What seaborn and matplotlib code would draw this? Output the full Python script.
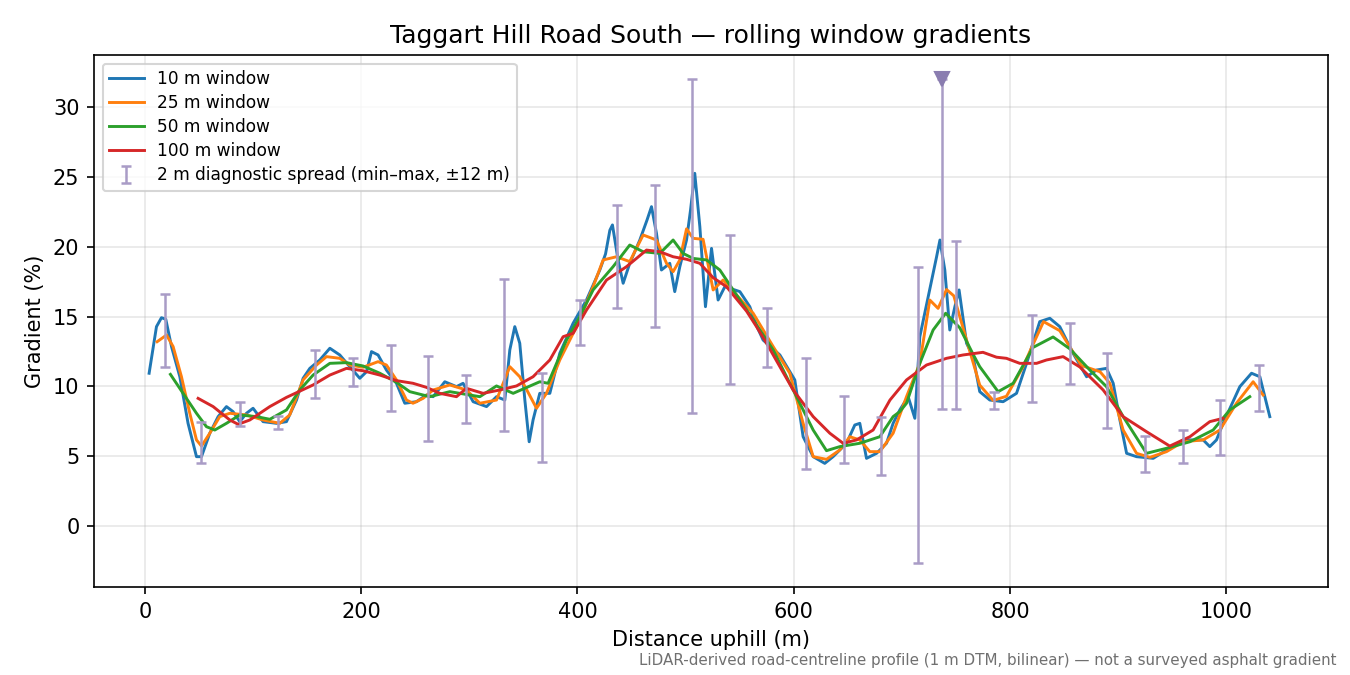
import numpy as np
import pandas as pd
import matplotlib
matplotlib.use("Agg")
import matplotlib.pyplot as plt
import seaborn as sns

# ── Data ─────────────────────────────────────────────────────────────────────
d10 = [4, 10.8, 15.4, 19.4, 24.7, 32.4, 40, 47.8, 52.4, 60.1, 67.8, 75.5, 81.6, 87.8,
       94, 100.1, 109.4, 121.8, 131, 140.3, 146.4, 152.6, 161.8, 171.1, 180.3, 189.5,
       198.8, 205, 209.6, 215.7, 223.4, 232.7, 240.4, 251.2, 260.4, 266.6, 277.4, 288.2,
       294.3, 303.6, 316, 325.2, 332.9, 337.5, 342.1, 346.7, 351.4, 355.4, 359, 365.2,
       374.5, 383.7, 396, 408.4, 420.7, 426, 430, 432.4, 437.6, 442.3, 448.4, 457.7,
       464.4, 468.5, 473.1, 477.7, 485.4, 490, 494.7, 500.9, 504.6, 508.5, 513.2, 518.4,
       524, 530.1, 536.3, 540.9, 550.2, 559.4, 566, 571.7, 587.2, 601, 608.7, 618,
       628.7, 636.4, 648.8, 656.5, 661.1, 667.3, 676.6, 685.8, 691.9, 698.1, 705.8, 712,
       716.6, 724.4, 732.1, 735.2, 739.7, 744.3, 749, 752.9, 759.8, 765.9, 772, 781.3,
       793.6, 806, 815.3, 827.5, 836.8, 846, 858.3, 870.8, 880, 889.2, 895.4, 901.6,
       907.8, 917, 932.4, 944.7, 960.1, 978.6, 984.7, 990.9, 997, 1012.5, 1023.3, 1031,
       1040.2]
g10 = [10.95, 14.29, 14.93, 14.82, 12.86, 10.7, 7.36, 4.97, 4.97, 6.65, 7.84, 8.56, 8.2,
       7.48, 8.08, 8.44, 7.48, 7.36, 7.48, 9.03, 10.59, 11.3, 11.9, 12.74, 12.26, 11.42,
       10.59, 11.06, 12.5, 12.26, 11.18, 10.23, 8.8, 8.91, 9.39, 9.27, 10.34, 9.99, 10.23,
       8.91, 8.56, 9.27, 9.03, 12.62, 14.29, 13.1, 9.03, 6.04, 7.6, 9.51, 9.51, 12.38,
       14.53, 16.2, 18.35, 19.5, 21.2, 21.58, 19.07, 17.4, 18.83, 20.5, 21.94, 22.89,
       20.98, 18.35, 18.83, 16.8, 18.59, 20.5, 22.65, 25.28, 21.46, 15.72, 19.9, 16.2,
       17.15, 17.04, 16.8, 15.72, 14.3, 13.33, 12.26, 10.47, 6.4, 4.97, 4.49, 4.97, 5.93,
       7.24, 7.36, 4.85, 5.21, 5.93, 7.36, 8.32, 9.27, 7.72, 13.57, 16.44, 19.3, 20.5,
       18.35, 14.05, 15.72, 16.92, 13.1, 12.14, 9.63, 9.03, 8.91, 9.51, 11.66, 14.65,
       14.89, 14.29, 12.38, 10.7, 11.18, 11.3, 10.23, 7.6, 5.21, 4.97, 4.85, 5.45, 6.17,
       6.17, 5.69, 6.17, 7.36, 9.99, 10.95, 10.7, 7.84]

d25 = [11.4, 20.1, 26.2, 33.9, 41.6, 47.8, 52.4, 60.1, 69.3, 78.6, 94, 109.4, 124.8, 134,
       146.4, 158.8, 168, 180.3, 189.5, 201.8, 215.7, 223.4, 232.7, 242, 248, 257.3,
       266.6, 282, 297.4, 309.8, 325.2, 337.5, 346.7, 362.2, 371.4, 383.7, 399.2, 414.5,
       423.8, 436.1, 448.4, 460.8, 473.1, 482.4, 488.5, 494.7, 500.9, 507, 516.2, 525.5,
       534.7, 547.1, 562.5, 581, 596.4, 608.7, 618, 630.3, 642.6, 651.9, 661.1, 670.4,
       679.6, 691.9, 704.3, 716.6, 725.8, 733.5, 741.3, 748, 759.8, 772, 784.4, 796.7,
       812.1, 820, 831, 846, 866, 883.2, 892.3, 904.6, 917, 929.3, 944.7, 960.1, 978.6,
       994, 1009.4, 1024.8, 1034]
g25 = [13.21, 13.69, 12.86, 10.7, 8.08, 6.17, 5.73, 6.65, 7.84, 8.08, 7.96, 7.6, 7.36,
       7.96, 10.47, 11.54, 12.14, 12.02, 11.54, 11.38, 11.78, 11.54, 10.47, 9.03, 8.8,
       9.15, 9.75, 10.11, 9.75, 8.8, 9.03, 11.42, 10.7, 8.44, 9.51, 11.9, 14.29, 17.15,
       19.07, 19.3, 18.95, 20.86, 20.5, 18.83, 18.23, 19.07, 21.3, 20.62, 20.55, 16.92,
       17.63, 16.56, 15.25, 12.86, 10.95, 7.36, 4.97, 4.78, 5.45, 6.4, 6.17, 5.33, 5.33,
       6.65, 9.27, 11.66, 16.2, 15.6, 16.95, 16.5, 13.33, 10.1, 9.0, 9.3, 11.42, 12.8,
       14.65, 14.0, 11.5, 11.06, 10.23, 6.88, 5.21, 4.92, 5.33, 6.04, 6.17, 6.88, 8.8,
       10.34, 9.39]

d50 = [23.7, 35.4, 47.8, 57, 64.7, 75.5, 87.8, 103.3, 115.6, 131, 143.3, 155.6, 171.1,
       186.5, 201.8, 217.3, 232.7, 245, 257.3, 263.5, 282, 309.8, 325.2, 340.6, 365.2,
       372.9, 389.9, 402.2, 414.5, 433, 448.4, 460.8, 476.2, 488.5, 497.7, 507, 519.4,
       531.7, 544, 556.4, 581, 599.5, 618, 630.3, 642.6, 661.1, 679.6, 691.9, 698.1,
       704.3, 716.6, 728.9, 740.5, 753.6, 765.9, 772, 789, 802.9, 821.3, 839.8, 855.3,
       873.8, 889.2, 904.6, 926.2, 944.7, 966.3, 987.8, 1003.2, 1021.7]
g50 = [10.87, 9.51, 8.08, 7.12, 6.88, 7.36, 7.96, 7.84, 7.65, 8.32, 9.75, 10.82, 11.66,
       11.71, 11.47, 10.95, 10.3, 9.63, 9.39, 9.27, 9.63, 9.27, 10.04, 9.51, 10.34, 10.23,
       13.33, 15.0, 16.92, 18.59, 20.14, 19.66, 19.54, 20.5, 19.54, 19.18, 19.07, 18.35,
       16.92, 15.5, 12.62, 9.75, 6.88, 5.4, 5.69, 5.93, 6.4, 7.84, 8.2, 8.8, 11.66, 14.05,
       15.25, 14.2, 12.3, 11.42, 9.63, 10.23, 12.8, 13.55, 12.7, 11.18, 9.99, 7.84, 5.21,
       5.57, 6.04, 6.88, 8.32, 9.27]

d100 = [49.3, 63.2, 78.6, 86.3, 97.1, 115.6, 131, 155.6, 171.1, 186.5, 201.8, 217.3,
        232.7, 248, 260.4, 272.8, 288.2, 297.4, 312.8, 328.2, 343.7, 359, 374.5, 386.8,
        396, 408.4, 426.9, 445.4, 463.9, 476.2, 488.5, 500.9, 513.2, 525.5, 537.9, 556.4,
        565.6, 574.9, 587.2, 599.5, 618, 633.4, 645.7, 658.1, 673.4, 689, 704.3, 722.8,
        741.3, 756.6, 775, 787.5, 796.7, 809, 824.5, 833.7, 849.1, 864.5, 886.1, 904.6,
        926.2, 947.7, 966.3, 984.7, 997]
g100 = [9.15, 8.56, 7.6, 7.29, 7.6, 8.56, 9.22, 10.11, 10.82, 11.3, 11.13, 10.82, 10.42,
        10.23, 9.94, 9.51, 9.27, 9.87, 9.51, 9.75, 10.04, 10.7, 11.9, 13.57, 13.81, 15.48,
        17.63, 18.59, 19.78, 19.66, 19.3, 19.12, 18.83, 17.8, 17.15, 15.4, 14.29, 13.1,
        11.42, 9.75, 7.84, 6.65, 5.93, 6.17, 6.88, 9.03, 10.47, 11.54, 12.02, 12.26, 12.45,
        12.1, 12.02, 11.66, 11.66, 11.9, 12.14, 11.4, 9.75, 7.84, 6.76, 5.73, 6.4, 7.48,
        7.72]

# 2 m diagnostic spread (min/max within ±12 m)
spread_x = [18.5, 52.4, 87.8, 123.3, 157.2, 192.6, 227.5, 262, 296.8, 332, 367, 402.2,
            436.4, 471.6, 506.4, 541, 575.7, 611.2, 646.3, 680.5, 715.3, 737.2, 750.5,
            785, 820.2, 855, 890.1, 924.6, 959.5, 994.6, 1030]
spread_lo = [11.4, 4.49, 7.19, 6.93, 9.16, 10.04, 8.27, 6.12, 7.41, 6.81, 4.61, 12.97,
             15.65, 14.29, 8.12, 10.15, 11.42, 4.06, 4.49, 3.66, -2.65, 8.39, 8.39, 8.39,
             8.91, 10.2, 7.05, 3.9, 4.54, 5.11, 8.27]
spread_hi = [16.6, 7.48, 8.87, 7.89, 12.62, 12.02, 12.97, 12.19, 10.82, 17.71, 10.99,
             16.2, 23.01, 24.44, 32.04, 20.86, 15.65, 12.02, 9.34, 7.84, 18.59, 32.04,
             20.45, 9.58, 15.13, 14.53, 12.42, 6.48, 6.88, 9.03, 11.54]

# spread clipped at the plot cap
clip_x = [737.2]
clip_y = [32.04]

windows = ["10 m window", "25 m window", "50 m window", "100 m window"]
colors = ["#1f77b4", "#ff7f0e", "#2ca02c", "#d62728"]
series = [(d10, g10), (d25, g25), (d50, g50), (d100, g100)]

# ── Plot ──────────────────────────────────────────────────────────────────────
fig, ax = plt.subplots(figsize=(9, 4.5), dpi=150)
fig.subplots_adjust(left=0.0696, right=0.9837, top=0.9185, bottom=0.1304)

for (d, g), name, c in zip(series, windows, colors):
    df = pd.DataFrame({"dist": d, "grad": g})
    sns.lineplot(data=df, x="dist", y="grad", color=c, lw=1.4, label=name, ax=ax)

lo = np.array(spread_lo)
hi = np.array(spread_hi)
ax.errorbar(spread_x, lo, yerr=[np.zeros_like(lo), hi - lo], fmt="none",
            ecolor="#a99cc6", elinewidth=1.2, capsize=2.5, capthick=1.2,
            label="2 m diagnostic spread (min–max, ±12 m)")
ax.plot(clip_x, clip_y, marker="v", ls="none", color="#8a7db0", markersize=7)

ax.set_xlim(-47, 1094)
ax.set_ylim(-4.37, 33.76)
ax.set_xticks([0, 200, 400, 600, 800, 1000])
ax.set_yticks([0, 5, 10, 15, 20, 25, 30])
ax.grid(True, color="#b0b0b0", alpha=0.3, lw=0.8)
ax.set_axisbelow(True)

ax.set_title("Taggart Hill Road South — rolling window gradients", fontsize=12)
ax.set_xlabel("Distance uphill (m)", fontsize=10)
ax.set_ylabel("Gradient (%)", fontsize=10)
ax.legend(loc="upper left", fontsize=8.2, labelspacing=0.35)

fig.text(0.99, 0.022,
         "LiDAR-derived road-centreline profile (1 m DTM, bilinear) — not a surveyed asphalt gradient",
         ha="right", va="center", fontsize=7.25, color="#707070")

plt.savefig("out.png", dpi=150)
plt.close()
